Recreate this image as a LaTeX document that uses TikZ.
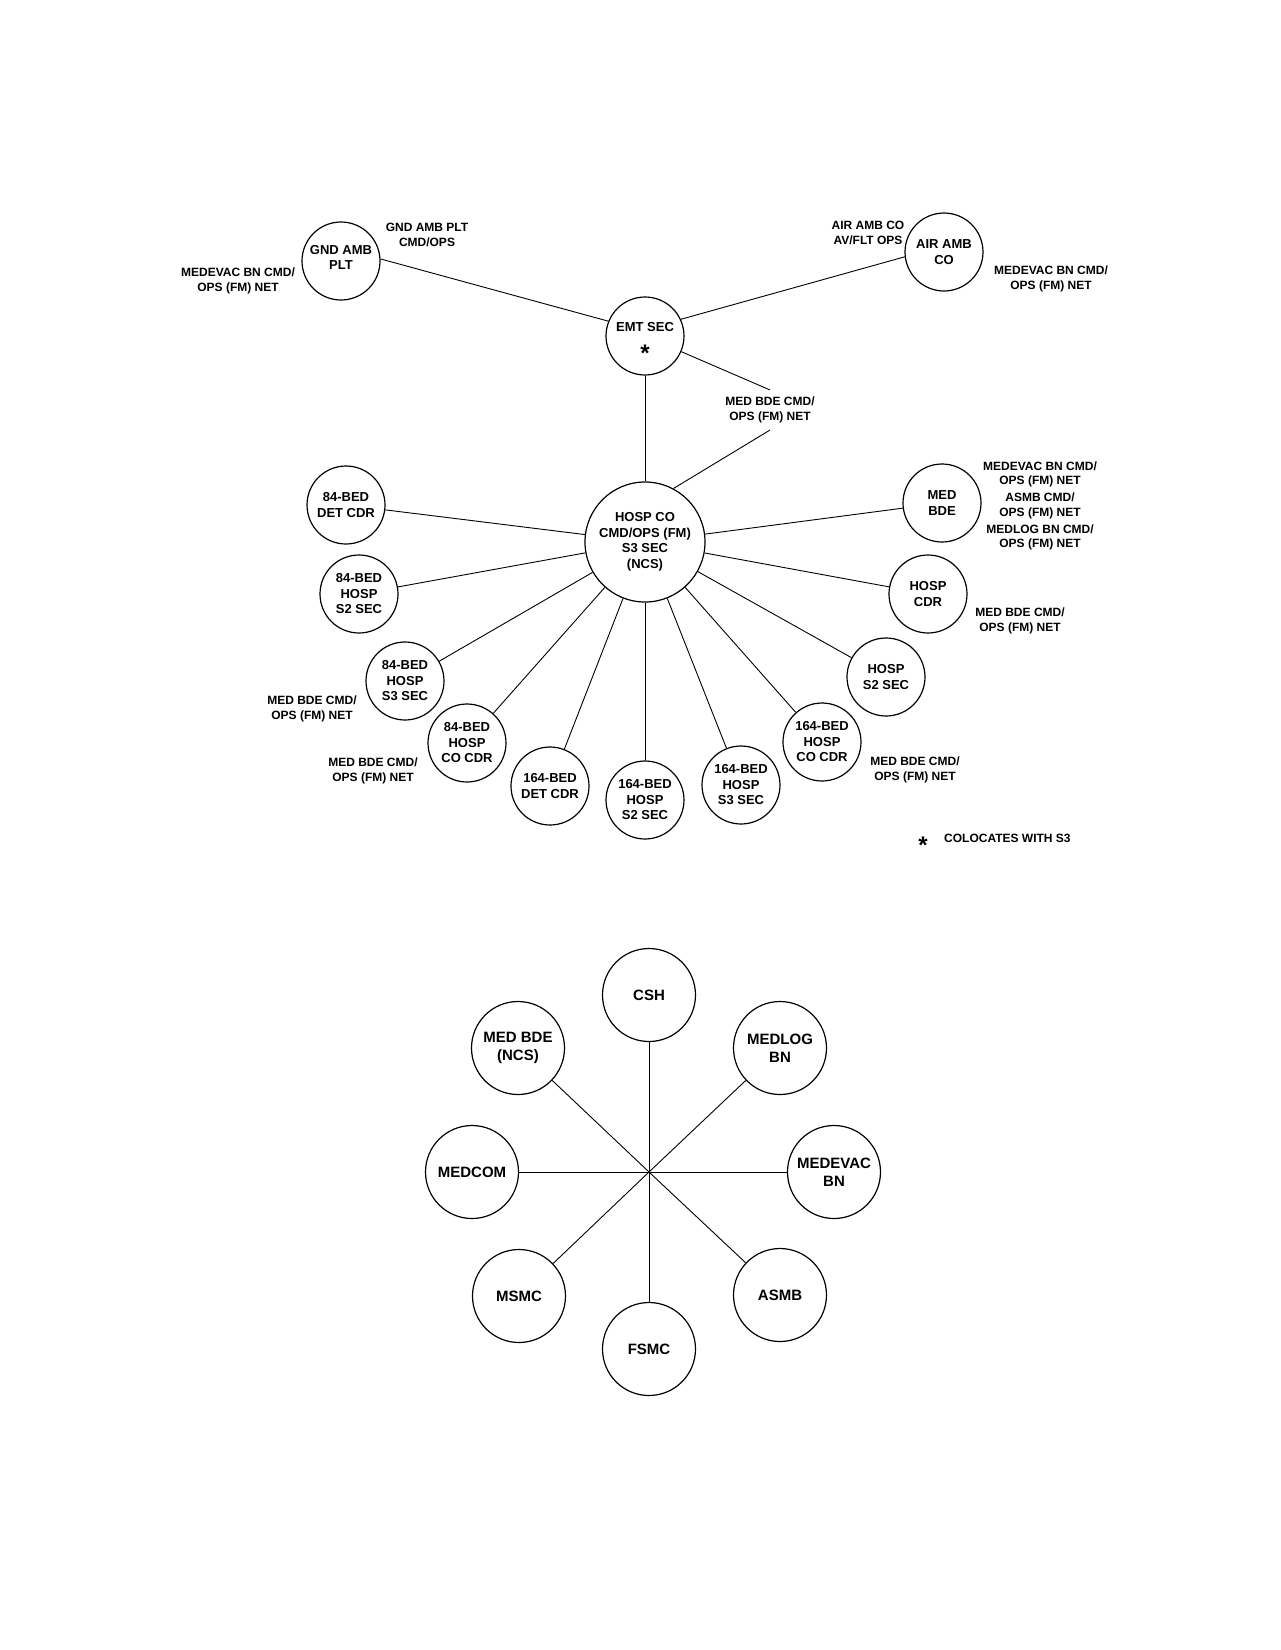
\documentclass[tikz,border=0pt]{standalone}
\usepackage{fontspec}
\setmainfont{Liberation Sans}
\newcommand{\stnfont}{\fontsize{13}{15.5}\selectfont\bfseries}
\newcommand{\bigfont}{\fontsize{15}{18}\selectfont\bfseries}
\newcommand{\notefont}{\fontsize{12}{14.5}\selectfont\bfseries}
\newcommand{\starfont}{\fontsize{24}{24}\selectfont\bfseries}
\tikzset{
  stn/.style={circle, draw, line width=1.2pt, minimum size=78pt, inner sep=0pt,
    align=center, font=\stnfont},
  ncsstn/.style={stn, minimum size=120pt},
  bigstn/.style={stn, minimum size=93pt, font=\bigfont},
  netnote/.style={align=center, font=\notefont, inner sep=2pt},
  link/.style={line width=0.9pt},
}

\begin{document}
\begin{tikzpicture}[x=1pt,y=-1pt]
  \useasboundingbox (0,0) rectangle (1281,1650);

  \node[stn] (gnd) at (341,261) {GND AMB\\PLT\\[-8pt]\mbox{}};
  \node[stn] (emt) at (645,336) {};
  \node[font=\stnfont] (emtname) at (645,327) {EMT SEC};
  \node[font=\starfont, inner sep=0pt] (emtstar) at (645,353) {*};
  \node[stn] (air) at (944,252) {AIR AMB\\CO};
  \node[ncsstn] (hosp) at (645,542) {HOSP CO\\CMD/OPS (FM)\\S3 SEC\\(NCS)};

  \node[stn] (bedAdet) at (346,505) {84-BED\\DET CDR};
  \node[stn] (bedAstwo) at (359,594) {84-BED\\HOSP\\S2 SEC};
  \node[stn] (bedAsthree) at (405,681) {84-BED\\HOSP\\S3 SEC};
  \node[stn] (bedAco) at (467,743) {84-BED\\HOSP\\CO CDR};
  \node[stn] (bedBdet) at (550,786) {164-BED\\DET CDR};
  \node[stn] (bedBstwo) at (645,800) {164-BED\\HOSP\\S2 SEC};
  \node[stn] (bedBsthree) at (741,785) {164-BED\\HOSP\\S3 SEC};
  \node[stn] (bedBco) at (822,742) {164-BED\\HOSP\\CO CDR};
  \node[stn] (hospstwo) at (886,677) {HOSP\\S2 SEC};
  \node[stn] (hospcdr) at (928,594) {HOSP\\CDR};
  \node[stn] (medbde) at (942,503) {MED\\BDE};

  \node[netnote] (gndops) at (427,235) {GND AMB PLT\\CMD/OPS};
  \node[netnote] (gndnet) at (238,281) {MEDEVAC BN CMD/\\OPS (FM) NET};
  \node[netnote] (airops) at (868,233) {AIR AMB CO\\AV/FLT OPS};
  \node[netnote] (airnet) at (1051,279) {MEDEVAC BN CMD/\\OPS (FM) NET};
  \node[netnote, inner sep=7pt] (emtnet) at (770,410) {MED BDE CMD/\\OPS (FM) NET};
  \node[netnote] (bdenets) at (1040,506)
    {MEDEVAC BN CMD/\\OPS (FM) NET\\[2.5pt]ASMB CMD/\\OPS (FM) NET\\[2.5pt]MEDLOG BN CMD/\\OPS (FM) NET};
  \node[netnote] (cdrnet) at (1020,621) {MED BDE CMD/\\OPS (FM) NET};
  \node[netnote] (sthreenet) at (312,709) {MED BDE CMD/\\OPS (FM) NET};
  \node[netnote] (bedAconet) at (373,771) {MED BDE CMD/\\OPS (FM) NET};
  \node[netnote] (bedBconet) at (915,770) {MED BDE CMD/\\OPS (FM) NET};

  \node[font=\starfont, inner sep=0pt] (keystar) at (923,845) {*};
  \node[netnote, anchor=west, inner sep=0pt] (keytext) at (944,838) {COLOCATES WITH S3};

  \draw[link] (gnd.3) -- (emt.158);
  \draw[link] (air.187) -- (emt.25);
  \draw[link] (emt.south) -- (hosp.north);
  \draw[link] (emt) -- (emtnet.north);
  \draw[link] (emtnet.south) -- (hosp.62);
  \foreach \n in {bedAdet,bedAstwo,bedAsthree,bedAco,bedBdet,bedBstwo,
                  bedBsthree,bedBco,hospstwo,hospcdr,medbde}
    \draw[link] (hosp) -- (\n);

  \coordinate (hub) at (649,1172);
  \node[bigstn] (csh) at (649,995) {CSH};
  \node[bigstn] (medlog) at (780,1048) {MEDLOG\\BN};
  \node[bigstn] (medevac) at (834,1172) {MEDEVAC\\BN};
  \node[bigstn] (asmb) at (780,1295) {ASMB};
  \node[bigstn] (fsmc) at (649,1349) {FSMC};
  \node[bigstn] (msmc) at (519,1296) {MSMC};
  \node[bigstn] (medcom) at (472,1172) {MEDCOM};
  \node[bigstn] (bdencs) at (518,1048) {MED BDE\\(NCS)};
  \foreach \n in {csh,medlog,medevac,asmb,fsmc,msmc,medcom,bdencs}
    \draw[link] (hub) -- (\n);

\end{tikzpicture}
\end{document}
